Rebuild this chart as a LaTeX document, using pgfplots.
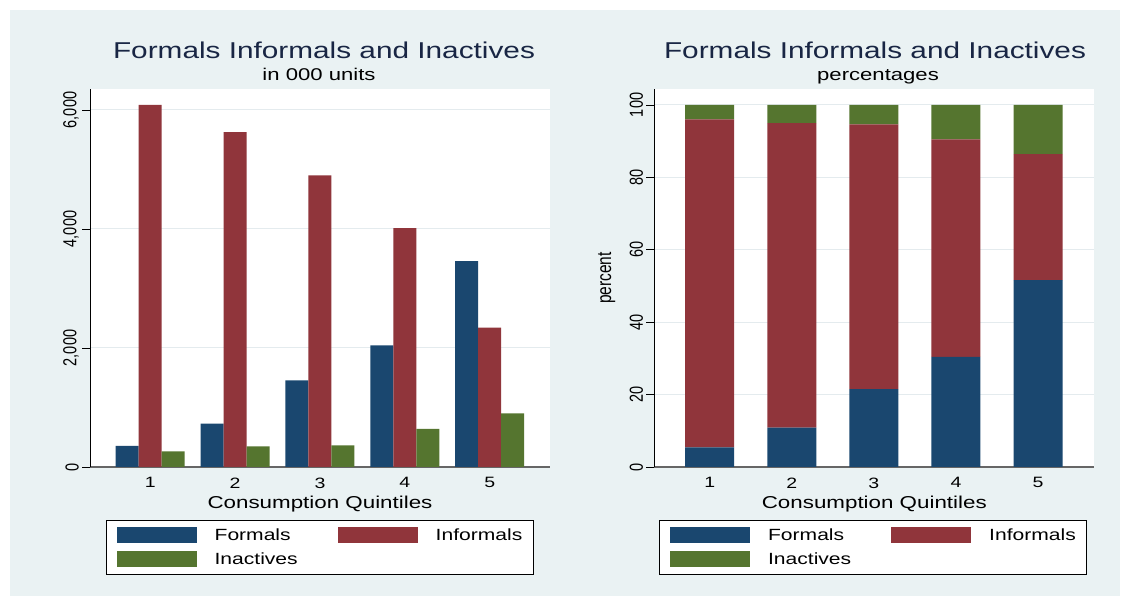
\documentclass[border=0pt]{standalone}
\usepackage{pgfplots}
\pgfplotsset{compat=1.18}
\usepackage{fontspec}
\setmainfont{Liberation Sans}
\definecolor{bg}{RGB}{234,242,243}
\definecolor{navy}{RGB}{26,71,111}
\definecolor{maroon}{RGB}{144,53,59}
\definecolor{fgreen}{RGB}{85,117,47}
\definecolor{ttl}{RGB}{25,38,68}
\definecolor{gridc}{RGB}{228,235,238}
\newcommand{\fs}[1]{\fontsize{#1pt}{#1pt}\selectfont}
\pgfplotsset{
  swatch/.style={legend image code/.code={\fill[##1] (0pt,-8pt) rectangle (80pt,8pt);}},
  stata/.style={
    scale only axis,
    axis background/.style={fill=white},
    axis x line*=bottom, axis y line*=left,
    every outer x axis line/.append style={-},
    every outer y axis line/.append style={-},
    x axis line style={black!60, line width=1.2pt},
    y axis line style={black, line width=0.7pt},
    xtick={1,2,3,4,5},
    xtick style={draw=none},
    ytick style={black, line width=0.6pt},
    tick align=outside,
    major tick length=8pt,
    ymajorgrids, grid style={gridc, line width=1pt},
    /pgf/number format/assume math mode=true,
    scaled y ticks=false,
    /pgf/number format/1000 sep={,},
    xticklabel style={font=\fs{15}, xscale=1.3, anchor=north, yshift=1pt},
    yticklabel style={font=\fs{14.5}, rotate=90, yscale=1.3, anchor=south, yshift=-1pt},
    xlabel style={font=\fs{17.2}, xscale=1.3, at={(axis description cs:0.5,0)}, anchor=base, yshift=-42pt},
    legend columns=2,
    legend cell align=left,
    legend style={
      draw=black, line width=0.7pt, fill=white,
      inner xsep=10.5pt, inner ysep=7pt,
      font=\fs{16.2},
      nodes={inner sep=0pt, xscale=1.3},
      /tikz/every odd column/.append style={column sep=18pt},
      /tikz/every even column/.append style={column sep=40pt},
      /tikz/row sep=8pt,
    },
  }
}
\begin{document}
\begin{tikzpicture}[x=1pt,y=1pt]
\useasboundingbox (0,0) rectangle (1122,599);
\fill[white] (0,0) rectangle (1122,599);
\fill[bg] (10,3) rectangle (1120,589);

% Left panel: counts in 000 units
\begin{axis}[stata,
  at={(90pt,132pt)}, anchor=south west,
  width=460pt, height=378pt,
  xmin=0.291, xmax=5.710,
  ymin=0, ymax=6353,
  ytick={0,2000,4000,6000},
  ybar, bar width=23pt,
  xlabel={Consumption Quintiles},
  legend style={at={(0.4989,-0.1402)}, anchor=north},
]
\addplot[fill=navy, draw=none, bar shift=-23pt, swatch] coordinates {(1,353) (2,728) (3,1457) (4,2045) (5,3460)};
\addplot[fill=maroon, draw=none, bar shift=0pt, swatch] coordinates {(1,6084) (2,5630) (3,4900) (4,4015) (5,2342)};
\addplot[fill=fgreen, draw=none, bar shift=23pt, swatch] coordinates {(1,263) (2,348) (3,364) (4,639) (5,902)};
\legend{Formals,Informals,Inactives}
\end{axis}

% Right panel: percentages
\begin{axis}[stata,
  at={(654.3pt,132pt)}, anchor=south west,
  width=440pt, height=378pt,
  xmin=0.325, xmax=5.686,
  ymin=0, ymax=104.4,
  ytick={0,20,40,60,80,100},
  ybar stacked, bar width=49pt,
  xlabel={Consumption Quintiles},
  ylabel={percent},
  ylabel style={font=\fs{15.5}, at={(axis description cs:-0.0984,0.5)}, anchor=base, yscale=1.3},
  legend style={at={(0.497,-0.1402)}, anchor=north},
]
\addplot[fill=navy, draw=none, swatch] coordinates {(1,5.4) (2,10.9) (3,21.5) (4,30.4) (5,51.6)};
\addplot[fill=maroon, draw=none, swatch] coordinates {(1,90.6) (2,84.1) (3,73.1) (4,60.1) (5,34.8)};
\addplot[fill=fgreen, draw=none, swatch] coordinates {(1,4.0) (2,5.0) (3,5.4) (4,9.5) (5,13.6)};
\legend{Formals,Informals,Inactives}
\end{axis}

% Titles
\node[font=\fs{22.9}, text=ttl, xscale=1.3, anchor=base] at (324,540.5) {Formals Informals and Inactives};
\node[font=\fs{17}, xscale=1.3, anchor=base] at (319,518) {in 000 units};
\node[font=\fs{22.9}, text=ttl, xscale=1.3, anchor=base] at (875,540.5) {Formals Informals and Inactives};
\node[font=\fs{17}, xscale=1.3, anchor=base] at (878,518) {percentages};
\end{tikzpicture}
\end{document}
